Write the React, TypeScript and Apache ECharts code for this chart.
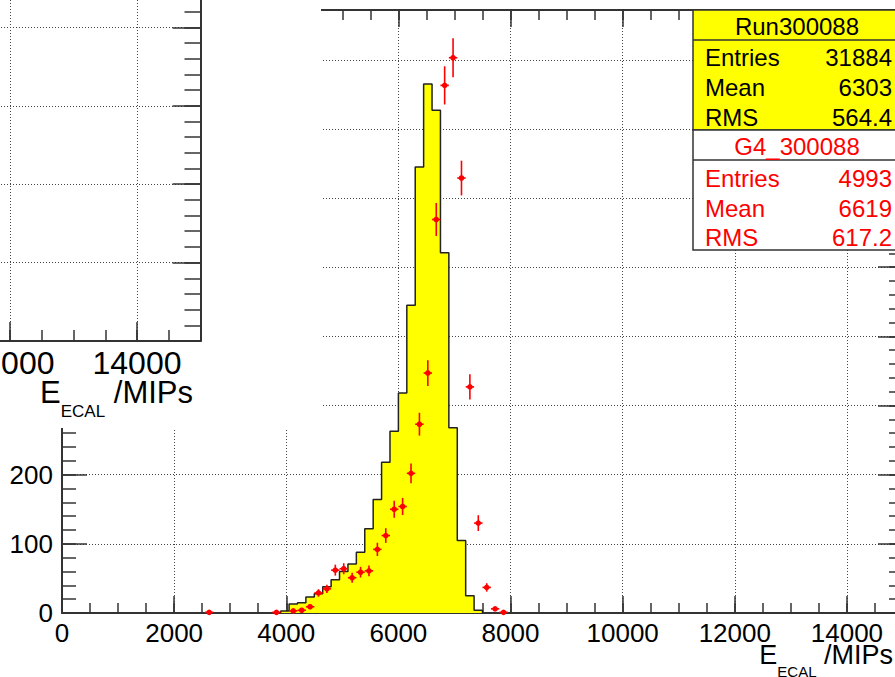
import React, { useEffect, useRef } from "react";
import * as echarts from "echarts";

// ---------------- data ----------------
const binStart = 3900;
const binWidth = 150;
// Run300088 (yellow histogram), counts per 150-MIP bin starting at 3900
const runCounts = [3, 13, 15, 23, 28, 38, 48, 60, 71, 88, 122, 164, 218, 263, 318, 445, 645, 765, 727, 521, 268, 105, 25, 4];
// G4_300088 (red points): bin centres, counts and errors
const g4Centers = [2625, 3825, 4125, 4275, 4425, 4575, 4725, 4875, 5025, 5175, 5325, 5475, 5625, 5775, 5925, 6075, 6225, 6375, 6525, 6675, 6825, 6975, 7125, 7275, 7425, 7575, 7725, 7875];
const g4Counts = [1, 1, 3, 4, 9, 29, 35, 62, 64, 51, 59, 61, 92, 112, 150, 154, 202, 273, 347, 569, 763, 803, 629, 327, 130, 37, 6, 1];
const g4Errors = [1, 1, 1.7, 2, 3, 5.4, 5.9, 7.9, 8, 7.1, 7.7, 7.8, 9.6, 10.6, 12.2, 12.4, 14.2, 16.5, 18.6, 23.9, 27.6, 28.3, 25.1, 18.1, 11.4, 6.1, 2.4, 1];

// axes
const xMin = 0;
const xMax = 15000;
const xMajor = 2000;
const xMinor = 500;
const yMax = 872;
const yMajor = 100;
const yMinor = 20;
const insetYMax = 500;

// stats boxes
const statNames = ["Entries", "Mean", "RMS"];
const runName = "Run300088";
const runStats = ["31884", "6303", "564.4"];
const g4Name = "G4_300088";
const g4Stats = ["4993", "6619", "617.2"];
const axisTitleMain = "E";
const axisTitleSub = "ECAL";
const axisTitleUnit = " /MIPs";

// ---------------- styling ----------------
const FONT = "'Liberation Sans', Arial, Helvetica, sans-serif";
const AX = "#333";
const GRIDLINE = { color: "#444", type: [1, 2] as any, width: 1 };
const plain = (v: number) => String(v);

function xAxisDef(grid: number, pos: string, interval: number, tick: number, opts: any = {}) {
  return {
    type: "value",
    gridIndex: grid,
    position: pos,
    min: xMin,
    max: xMax,
    interval,
    z: opts.z ?? 0,
    axisLine: { show: opts.line !== false, onZero: false, lineStyle: { color: AX, width: 2 } },
    axisTick: { show: true, inside: true, length: tick, lineStyle: { color: AX, width: 1.5 } },
    axisLabel: opts.label
      ? { show: true, fontSize: opts.label, color: "#000", fontFamily: FONT, margin: opts.margin ?? 8, showMaxLabel: false, formatter: plain }
      : { show: false },
    splitLine: { show: !!opts.split, lineStyle: GRIDLINE },
  };
}

function yAxisDef(grid: number, pos: string, max: number, interval: number, tick: number, opts: any = {}) {
  return {
    type: "value",
    gridIndex: grid,
    position: pos,
    min: 0,
    max,
    interval,
    z: opts.z ?? 0,
    axisLine: { show: opts.line !== false, onZero: false, lineStyle: { color: AX, width: 2 } },
    axisTick: { show: true, inside: true, length: tick, lineStyle: { color: AX, width: 1.5 } },
    axisLabel: opts.label
      ? { show: true, fontSize: opts.label, color: "#000", fontFamily: FONT, margin: opts.margin ?? 9, showMaxLabel: false, formatter: plain }
      : { show: false },
    splitLine: { show: !!opts.split, lineStyle: GRIDLINE },
  };
}

function titleText(xRight: number, yTop: number, big: number, small: number, z: number) {
  return {
    type: "text",
    x: xRight,
    y: yTop,
    z,
    style: {
      text: `{a|${axisTitleMain}}{b|${axisTitleSub}}{a|${axisTitleUnit}}`,
      align: "right",
      verticalAlign: "top",
      rich: {
        a: { fontSize: big, fontFamily: FONT, fill: "#000", lineHeight: big + 4, verticalAlign: "top" },
        b: { fontSize: small, fontFamily: FONT, fill: "#000", lineHeight: 2 * (big / 2 + 2 + small) },
      },
    },
  };
}

function buildStats() {
  const els: any[] = [];
  const bx = 693;
  const bw = 215;
  const Z = 60;
  const border = { stroke: "#333", lineWidth: 1.5 };
  els.push({ type: "rect", z: Z, shape: { x: bx, y: 10, width: bw, height: 120 }, style: { fill: "#ffff00", ...border } });
  els.push({ type: "rect", z: Z, shape: { x: bx, y: 130, width: bw, height: 120 }, style: { fill: "#ffffff", ...border } });
  els.push({ type: "line", z: Z, shape: { x1: bx, y1: 40, x2: bx + bw, y2: 40 }, style: border });
  els.push({ type: "line", z: Z, shape: { x1: bx, y1: 160, x2: bx + bw, y2: 160 }, style: border });
  const fs = 24;
  const txt = (text: string, x: number, y: number, align: string, fill: string) => ({
    type: "text",
    z: Z + 1,
    x,
    y,
    style: { text, fill, fontSize: fs, fontFamily: FONT, align, verticalAlign: "middle" },
  });
  els.push(txt(runName, 797, 26, "center", "#000"));
  const runY = [57, 87, 117];
  statNames.forEach((n, i) => {
    els.push(txt(n, 705, runY[i], "left", "#000"));
    els.push(txt(runStats[i], 892, runY[i], "right", "#000"));
  });
  els.push(txt(g4Name, 797, 146, "center", "#ff0000"));
  const g4Y = [178, 208, 237];
  statNames.forEach((n, i) => {
    els.push(txt(n, 705, g4Y[i], "left", "#ff0000"));
    els.push(txt(g4Stats[i], 892, g4Y[i], "right", "#ff0000"));
  });
  return els;
}

export default function App() {
  const ref = useRef<HTMLDivElement>(null);
  useEffect(() => {
    const chart = echarts.init(ref.current!, null, { renderer: "svg" });

    const histData: number[][] = [[binStart, 0]];
    runCounts.forEach((v, i) => histData.push([binStart + i * binWidth, v]));
    histData.push([binStart + runCounts.length * binWidth, 0]);

    const g4Data = g4Centers.map((x, i) => [x, g4Counts[i], g4Errors[i]]);

    const mainGrid = { left: 62, top: 10, width: 841, height: 603, containLabel: false, outerBoundsMode: "none" };
    const insetGrid = { left: -752, top: -51, width: 952.5, height: 392, containLabel: false, outerBoundsMode: "none" };

    const option: any = {
      animation: false,
      backgroundColor: "#ffffff",
      grid: [mainGrid, { ...mainGrid }, insetGrid, { ...insetGrid }],
      xAxis: [
        xAxisDef(0, "bottom", xMajor, 17, { label: 26, split: true, margin: 7 }),
        xAxisDef(0, "top", xMajor, 17),
        xAxisDef(1, "bottom", xMinor, 10, { line: false }),
        xAxisDef(1, "top", xMinor, 10, { line: false }),
        xAxisDef(2, "bottom", xMajor, 19, { label: 32, split: true, margin: 6, z: 100 }),
        xAxisDef(3, "bottom", xMinor, 11, { line: false, z: 100 }),
      ],
      yAxis: [
        yAxisDef(0, "left", yMax, yMajor, 25, { label: 26, split: true, margin: 9 }),
        yAxisDef(0, "right", yMax, yMajor, 25),
        yAxisDef(1, "left", yMax, yMinor, 14, { line: false }),
        yAxisDef(1, "right", yMax, yMinor, 14, { line: false }),
        yAxisDef(2, "left", insetYMax, yMajor, 28, { split: true, z: 100 }),
        yAxisDef(2, "right", insetYMax, yMajor, 28, { z: 100 }),
        yAxisDef(3, "right", insetYMax, yMinor, 16, { line: false, z: 100 }),
      ],
      series: [
        {
          name: runName,
          type: "line",
          xAxisIndex: 0,
          yAxisIndex: 0,
          step: "end",
          data: histData,
          symbol: "none",
          showSymbol: false,
          lineStyle: { color: "#222", width: 1.5 },
          areaStyle: { color: "#ffff00", opacity: 1 },
          z: 2,
        },
        {
          name: g4Name,
          type: "custom",
          xAxisIndex: 0,
          yAxisIndex: 0,
          z: 3,
          encode: { x: 0, y: 1 },
          data: g4Data,
          renderItem: (params: any, api: any) => {
            const x = api.value(0);
            const y = api.value(1);
            const e = api.value(2);
            const c = api.coord([x, y]);
            const lo = api.coord([x, Math.max(0, y - e)]);
            const hi = api.coord([x, y + e]);
            const l = api.coord([x - binWidth / 2, y]);
            const r = api.coord([x + binWidth / 2, y]);
            const st = { stroke: "#ff0000", lineWidth: 1.6 };
            return {
              type: "group",
              children: [
                { type: "line", shape: { x1: c[0], y1: lo[1], x2: c[0], y2: hi[1] }, style: st },
                { type: "line", shape: { x1: l[0], y1: c[1], x2: r[0], y2: c[1] }, style: st },
                { type: "circle", shape: { cx: c[0], cy: c[1], r: 2.8 }, style: { fill: "#ff0000" } },
              ],
            };
          },
        },
      ],
      graphic: {
        elements: [
          { type: "rect", z: 50, shape: { x: 0, y: 0, width: 321, height: 428 }, style: { fill: "#ffffff" } },
          titleText(193, 377, 31, 17, 110),
          titleText(893, 641, 27, 15, 60),
          ...buildStats(),
        ],
      },
    };

    chart.setOption(option);
    return () => chart.dispose();
  }, []);
  return <div ref={ref} style={{ position: "fixed", left: 0, top: 0, width: 895, height: 677 }} />;
}
